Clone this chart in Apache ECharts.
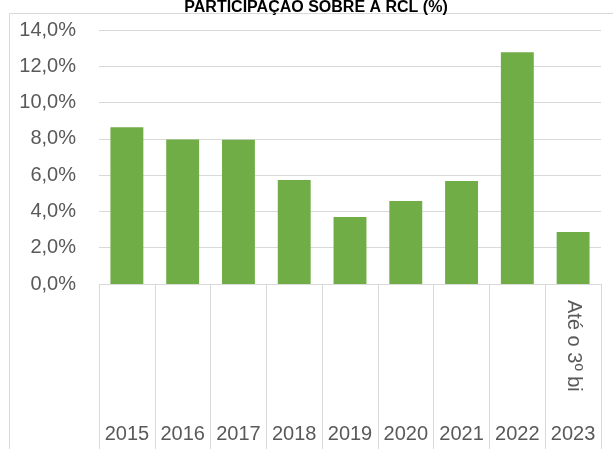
<!DOCTYPE html>
<html>
<head>
<meta charset="utf-8">
<script src="https://cdn.jsdelivr.net/npm/echarts@6/dist/echarts.min.js"></script>
<style>html,body{margin:0;padding:0;background:#fff}#c{width:613px;height:449px}</style>
</head>
<body>
<div id="c"></div>
<script>
var categories = ['2015','2016','2017','2018','2019','2020','2021','2022','2023'];
var subLabels = ['','','','','','','','','Até o 3º bi'];
var values = [8.64, 7.97, 7.95, 5.73, 3.69, 4.57, 5.68, 12.77, 2.87];
var titleText = 'PARTICIPAÇÃO SOBRE A RCL (%)';

var chart = echarts.init(document.getElementById('c'), null, {renderer: 'canvas'});
var font = 'Liberation Sans, Arial, sans-serif';
chart.setOption({
  animation: false,
  title: {
    text: titleText,
    left: 311, top: -5, textAlign: 'center',
    textStyle: {fontFamily: font, fontSize: 16, fontWeight: 'bold', color: '#000'}
  },
  graphic: [{
    type: 'rect', z: -1, silent: true,
    shape: {x: 9.5, y: 13.5, width: 700, height: 600},
    style: {fill: 'none', stroke: '#d9d9d9', lineWidth: 1}
  }],
  grid: {left: 99, right: 12, top: 30, bottom: 165, containLabel: false},
  xAxis: [{
    type: 'category', data: categories, position: 'bottom',
    axisLine: {show: true, lineStyle: {color: '#d9d9d9', width: 1}},
    axisTick: {show: true, interval: 0, length: 170, lineStyle: {color: '#d9d9d9', width: 1}},
    axisLabel: {interval: 0, margin: 140, fontFamily: font, fontSize: 20, color: '#595959', hideOverlap: false}
  }, {
    type: 'category', data: subLabels, position: 'bottom',
    axisLine: {show: false}, axisTick: {show: false},
    axisLabel: {margin: 16, rotate: -90, interval: 0, fontFamily: font, fontSize: 20, color: '#595959'}
  }],
  yAxis: {
    type: 'value', min: 0, max: 14, interval: 2,
    axisLine: {show: false}, axisTick: {show: false},
    splitLine: {lineStyle: {color: '#d9d9d9', width: 1}},
    axisLabel: {
      margin: 23, fontFamily: font, fontSize: 20, color: '#595959',
      formatter: function (v) { return v.toFixed(1).replace('.', ',') + '%'; }
    }
  },
  series: [{
    type: 'bar', data: values, xAxisIndex: 0,
    barCategoryGap: '41%',
    itemStyle: {color: '#70AD47'}
  }]
});
</script>
</body>
</html>
